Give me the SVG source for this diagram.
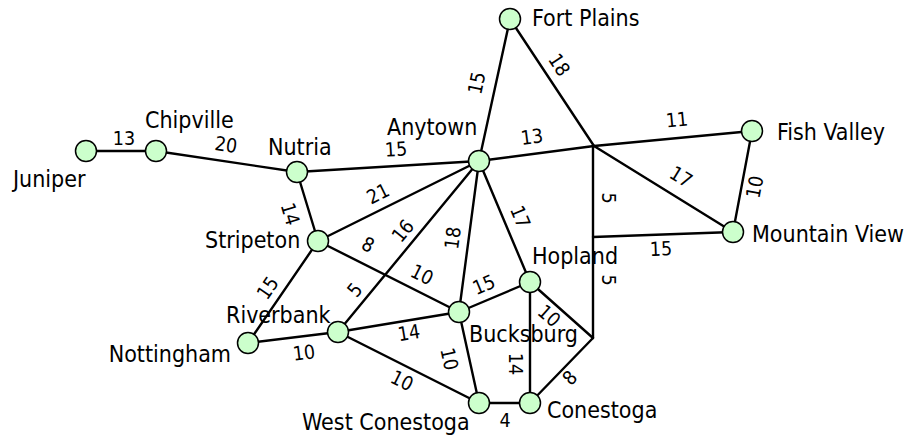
<svg xmlns="http://www.w3.org/2000/svg" width="912" height="438" viewBox="0 0 912 438">
  <style>
    .edge { stroke: #000; stroke-width: 2.4; fill: none; stroke-linecap: round; }
    .node circle { fill: #ccffcc; stroke: #000; stroke-width: 1.5; }
    .node text { font-family: "DejaVu Sans Condensed", "Liberation Sans", sans-serif; font-stretch: condensed; font-size: 23px; fill: #000; }
    .w { font-family: "DejaVu Sans Condensed", "Liberation Sans", sans-serif; font-stretch: condensed; font-size: 19.5px; fill: #000; text-anchor: middle; dominant-baseline: central; }
  </style>

  <!-- road segments; unmarked bends/crossings at (594,146), (593,237), (593,338) -->
  <g id="connectors">
    <line class="edge" x1="86" y1="151" x2="156" y2="151"/>
    <line class="edge" x1="156" y1="151" x2="297" y2="172"/>
    <line class="edge" x1="297" y1="172" x2="479" y2="161"/>
    <line class="edge" x1="297" y1="172" x2="318" y2="241"/>
    <line class="edge" x1="479" y1="161" x2="510" y2="19"/>
    <line class="edge" x1="510" y1="19" x2="594" y2="146"/>
    <line class="edge" x1="479" y1="161" x2="594" y2="146"/>
    <line class="edge" x1="594" y1="146" x2="752" y2="131"/>
    <line class="edge" x1="594" y1="146" x2="733" y2="232"/>
    <line class="edge" x1="752" y1="131" x2="733" y2="232"/>
    <line class="edge" x1="593" y1="146" x2="593" y2="338"/>
    <line class="edge" x1="593" y1="237" x2="733" y2="232"/>
    <line class="edge" x1="593" y1="338" x2="530" y2="282"/>
    <line class="edge" x1="593" y1="338" x2="530" y2="403"/>
    <line class="edge" x1="479" y1="161" x2="318" y2="241"/>
    <line class="edge" x1="479" y1="161" x2="338" y2="332"/>
    <line class="edge" x1="479" y1="161" x2="459" y2="312"/>
    <line class="edge" x1="479" y1="161" x2="530" y2="282"/>
    <line class="edge" x1="318" y1="241" x2="459" y2="312"/>
    <line class="edge" x1="318" y1="241" x2="248" y2="343"/>
    <line class="edge" x1="248" y1="343" x2="338" y2="332"/>
    <line class="edge" x1="338" y1="332" x2="459" y2="312"/>
    <line class="edge" x1="338" y1="332" x2="479" y2="403"/>
    <line class="edge" x1="459" y1="312" x2="530" y2="282"/>
    <line class="edge" x1="459" y1="312" x2="479" y2="403"/>
    <line class="edge" x1="530" y1="282" x2="530" y2="403"/>
    <line class="edge" x1="479" y1="403" x2="530" y2="403"/>
  </g>

  <!-- distances, rotated along their segments -->
  <g id="weights">
    <text class="w" transform="translate(124,138)">13</text>
    <text class="w" transform="translate(226,145) rotate(8.5)">20</text>
    <text class="w" transform="translate(396,149.5) rotate(-3.5)">15</text>
    <text class="w" transform="translate(532,137) rotate(-7.4)">13</text>
    <text class="w" transform="translate(677,120) rotate(-5.4)">11</text>
    <text class="w" transform="translate(477,83) rotate(-77.7)">15</text>
    <text class="w" transform="translate(559,65) rotate(56.5)">18</text>
    <text class="w" transform="translate(681,177) rotate(31.7)">17</text>
    <text class="w" transform="translate(755,187) rotate(-79.3)">10</text>
    <text class="w" transform="translate(608,198) rotate(90)">5</text>
    <text class="w" transform="translate(661,249) rotate(-2)">15</text>
    <text class="w" transform="translate(608,280) rotate(90)">5</text>
    <text class="w" transform="translate(290,214) rotate(73.1)">14</text>
    <text class="w" transform="translate(378,194) rotate(-26.4)">21</text>
    <text class="w" transform="translate(368,245) rotate(26.7)">8</text>
    <text class="w" transform="translate(422,275) rotate(26.7)">10</text>
    <text class="w" transform="translate(403,231) rotate(-50.5)">16</text>
    <text class="w" transform="translate(355,290) rotate(-50.5)">5</text>
    <text class="w" transform="translate(453,238) rotate(-82.5)">18</text>
    <text class="w" transform="translate(520,217) rotate(67.1)">17</text>
    <text class="w" transform="translate(268,288) rotate(-55.5)">15</text>
    <text class="w" transform="translate(304,353) rotate(-7)">10</text>
    <text class="w" transform="translate(409,333) rotate(-9.4)">14</text>
    <text class="w" transform="translate(402,381) rotate(26.7)">10</text>
    <text class="w" transform="translate(484,285) rotate(-22.9)">15</text>
    <text class="w" transform="translate(449,359) rotate(77.6)">10</text>
    <text class="w" transform="translate(515,364) rotate(90)">14</text>
    <text class="w" transform="translate(549,316) rotate(41.6)">10</text>
    <text class="w" transform="translate(570,378) rotate(-45.9)">8</text>
    <text class="w" transform="translate(505,420)">4</text>
  </g>

  <g id="juniper" class="node"><circle cx="86" cy="151" r="10.5"/><text x="13" y="187">Juniper</text></g>
  <g id="chipville" class="node"><circle cx="156" cy="151" r="10.5"/><text x="145" y="128">Chipville</text></g>
  <g id="nutria" class="node"><circle cx="297" cy="172" r="10.5"/><text x="268" y="155">Nutria</text></g>
  <g id="anytown" class="node"><circle cx="479" cy="161" r="10.5"/><text x="387" y="135">Anytown</text></g>
  <g id="fort-plains" class="node"><circle cx="510" cy="19" r="10.5"/><text x="532" y="26">Fort Plains</text></g>
  <g id="fish-valley" class="node"><circle cx="752" cy="131" r="10.5"/><text x="777" y="140">Fish Valley</text></g>
  <g id="mountain-view" class="node"><circle cx="733" cy="232" r="10.5"/><text x="752" y="242">Mountain View</text></g>
  <g id="stripeton" class="node"><circle cx="318" cy="241" r="10.5"/><text x="205" y="247.5">Stripeton</text></g>
  <g id="riverbank" class="node"><circle cx="338" cy="332" r="10.5"/><text x="226" y="323">Riverbank</text></g>
  <g id="nottingham" class="node"><circle cx="248" cy="343" r="10.5"/><text x="231" y="362" text-anchor="end">Nottingham</text></g>
  <g id="bucksburg" class="node"><circle cx="459" cy="312" r="10.5"/><text x="469" y="342">Bucksburg</text></g>
  <g id="hopland" class="node"><circle cx="530" cy="282" r="10.5"/><text x="532" y="264">Hopland</text></g>
  <g id="west-conestoga" class="node"><circle cx="479" cy="403" r="10.5"/><text x="302" y="430">West Conestoga</text></g>
  <g id="conestoga" class="node"><circle cx="530" cy="403" r="10.5"/><text x="547" y="418">Conestoga</text></g>
</svg>
